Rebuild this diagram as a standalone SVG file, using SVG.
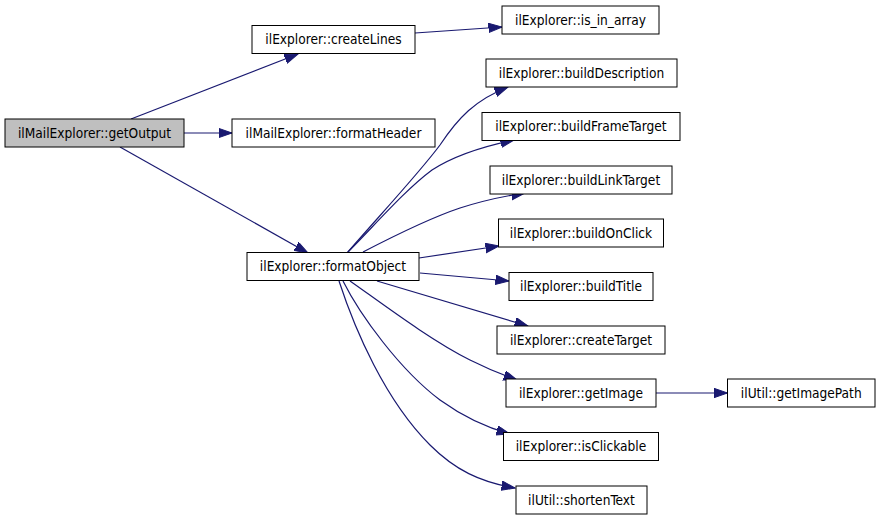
<svg xmlns="http://www.w3.org/2000/svg" width="880" height="520" viewBox="0 0 880 520">
<style>
.n rect{fill:#ffffff;stroke:#000000;stroke-width:1}
.n.root rect{fill:#bfbfbf}
.n text{font-family:"DejaVu Sans Condensed","DejaVu Sans","Liberation Sans",sans-serif;font-stretch:condensed;font-size:13.6px;fill:#000000;text-anchor:middle}
.e path{fill:none;stroke:#191970;stroke-width:1.2;marker-end:url(#ah)}
</style>
<defs>
<marker id="ah" markerUnits="userSpaceOnUse" markerWidth="15" markerHeight="11" refX="13.5" refY="4.7" orient="auto">
<path d="M0,0 L13.5,4.7 L0,9.4 z" fill="#191970" stroke="#191970" stroke-width="1"/>
</marker>
</defs>
<rect width="880" height="520" fill="#ffffff"/>
<g id="edges" class="e">
<path d="M131,119 L298,54"/>
<path d="M184,133 L232,133"/>
<path d="M120,147 L308,253"/>
<path d="M415,33 L502,27"/>
<path d="M347,253 C380,215 420,172 440,145 C458,118 475,100 508,87"/>
<path d="M348,252 C375,225 405,190 432,170 C455,155 485,146 514,140"/>
<path d="M363,252 C390,238 430,218 460,208 C485,200 505,196 525,193"/>
<path d="M419,258 L499,246"/>
<path d="M420,273 L509,281"/>
<path d="M377,281 L528,326"/>
<path d="M350,281 C380,302 430,340 470,360 C488,369 503,375 517,380"/>
<path d="M343,281 C360,315 400,370 440,400 C465,418 488,428 510,434"/>
<path d="M339,281 C355,330 385,400 430,445 C455,470 480,482 515,488"/>
<path d="M656,393 L727.5,393"/>
</g>
<g id="getOutput" class="n root"><rect x="5" y="119" width="179" height="28"/><text x="94.5" y="137.6">ilMailExplorer::getOutput</text></g>
<g id="createLines" class="n"><rect x="252" y="25.5" width="163" height="28"/><text x="333.5" y="44.1">ilExplorer::createLines</text></g>
<g id="formatHeader" class="n"><rect x="232" y="119" width="203" height="28"/><text x="333.5" y="137.6">ilMailExplorer::formatHeader</text></g>
<g id="formatObject" class="n"><rect x="247" y="252.5" width="172" height="28"/><text x="333" y="271.1">ilExplorer::formatObject</text></g>
<g id="is_in_array" class="n"><rect x="502" y="6" width="157" height="28"/><text x="580.5" y="24.6">ilExplorer::is_in_array</text></g>
<g id="buildDescription" class="n"><rect x="486" y="59" width="191" height="28"/><text x="581.5" y="77.6">ilExplorer::buildDescription</text></g>
<g id="buildFrameTarget" class="n"><rect x="482" y="112.5" width="198" height="28"/><text x="581" y="131.1">ilExplorer::buildFrameTarget</text></g>
<g id="buildLinkTarget" class="n"><rect x="490" y="166" width="182" height="28"/><text x="581" y="184.6">ilExplorer::buildLinkTarget</text></g>
<g id="buildOnClick" class="n"><rect x="498.5" y="219" width="165" height="28"/><text x="581" y="237.6">ilExplorer::buildOnClick</text></g>
<g id="buildTitle" class="n"><rect x="509" y="272.5" width="144" height="28"/><text x="581" y="291.1">ilExplorer::buildTitle</text></g>
<g id="createTarget" class="n"><rect x="497" y="326" width="168" height="28"/><text x="581" y="344.6">ilExplorer::createTarget</text></g>
<g id="getImage" class="n"><rect x="506" y="379" width="150" height="28"/><text x="581" y="397.6">ilExplorer::getImage</text></g>
<g id="getImagePath" class="n"><rect x="727.5" y="379" width="147.5" height="28"/><text x="801.25" y="397.6">ilUtil::getImagePath</text></g>
<g id="isClickable" class="n"><rect x="503.5" y="432.5" width="155" height="28"/><text x="581" y="451.1">ilExplorer::isClickable</text></g>
<g id="shortenText" class="n"><rect x="516" y="486" width="131" height="28"/><text x="581.5" y="504.6">ilUtil::shortenText</text></g>
</svg>
